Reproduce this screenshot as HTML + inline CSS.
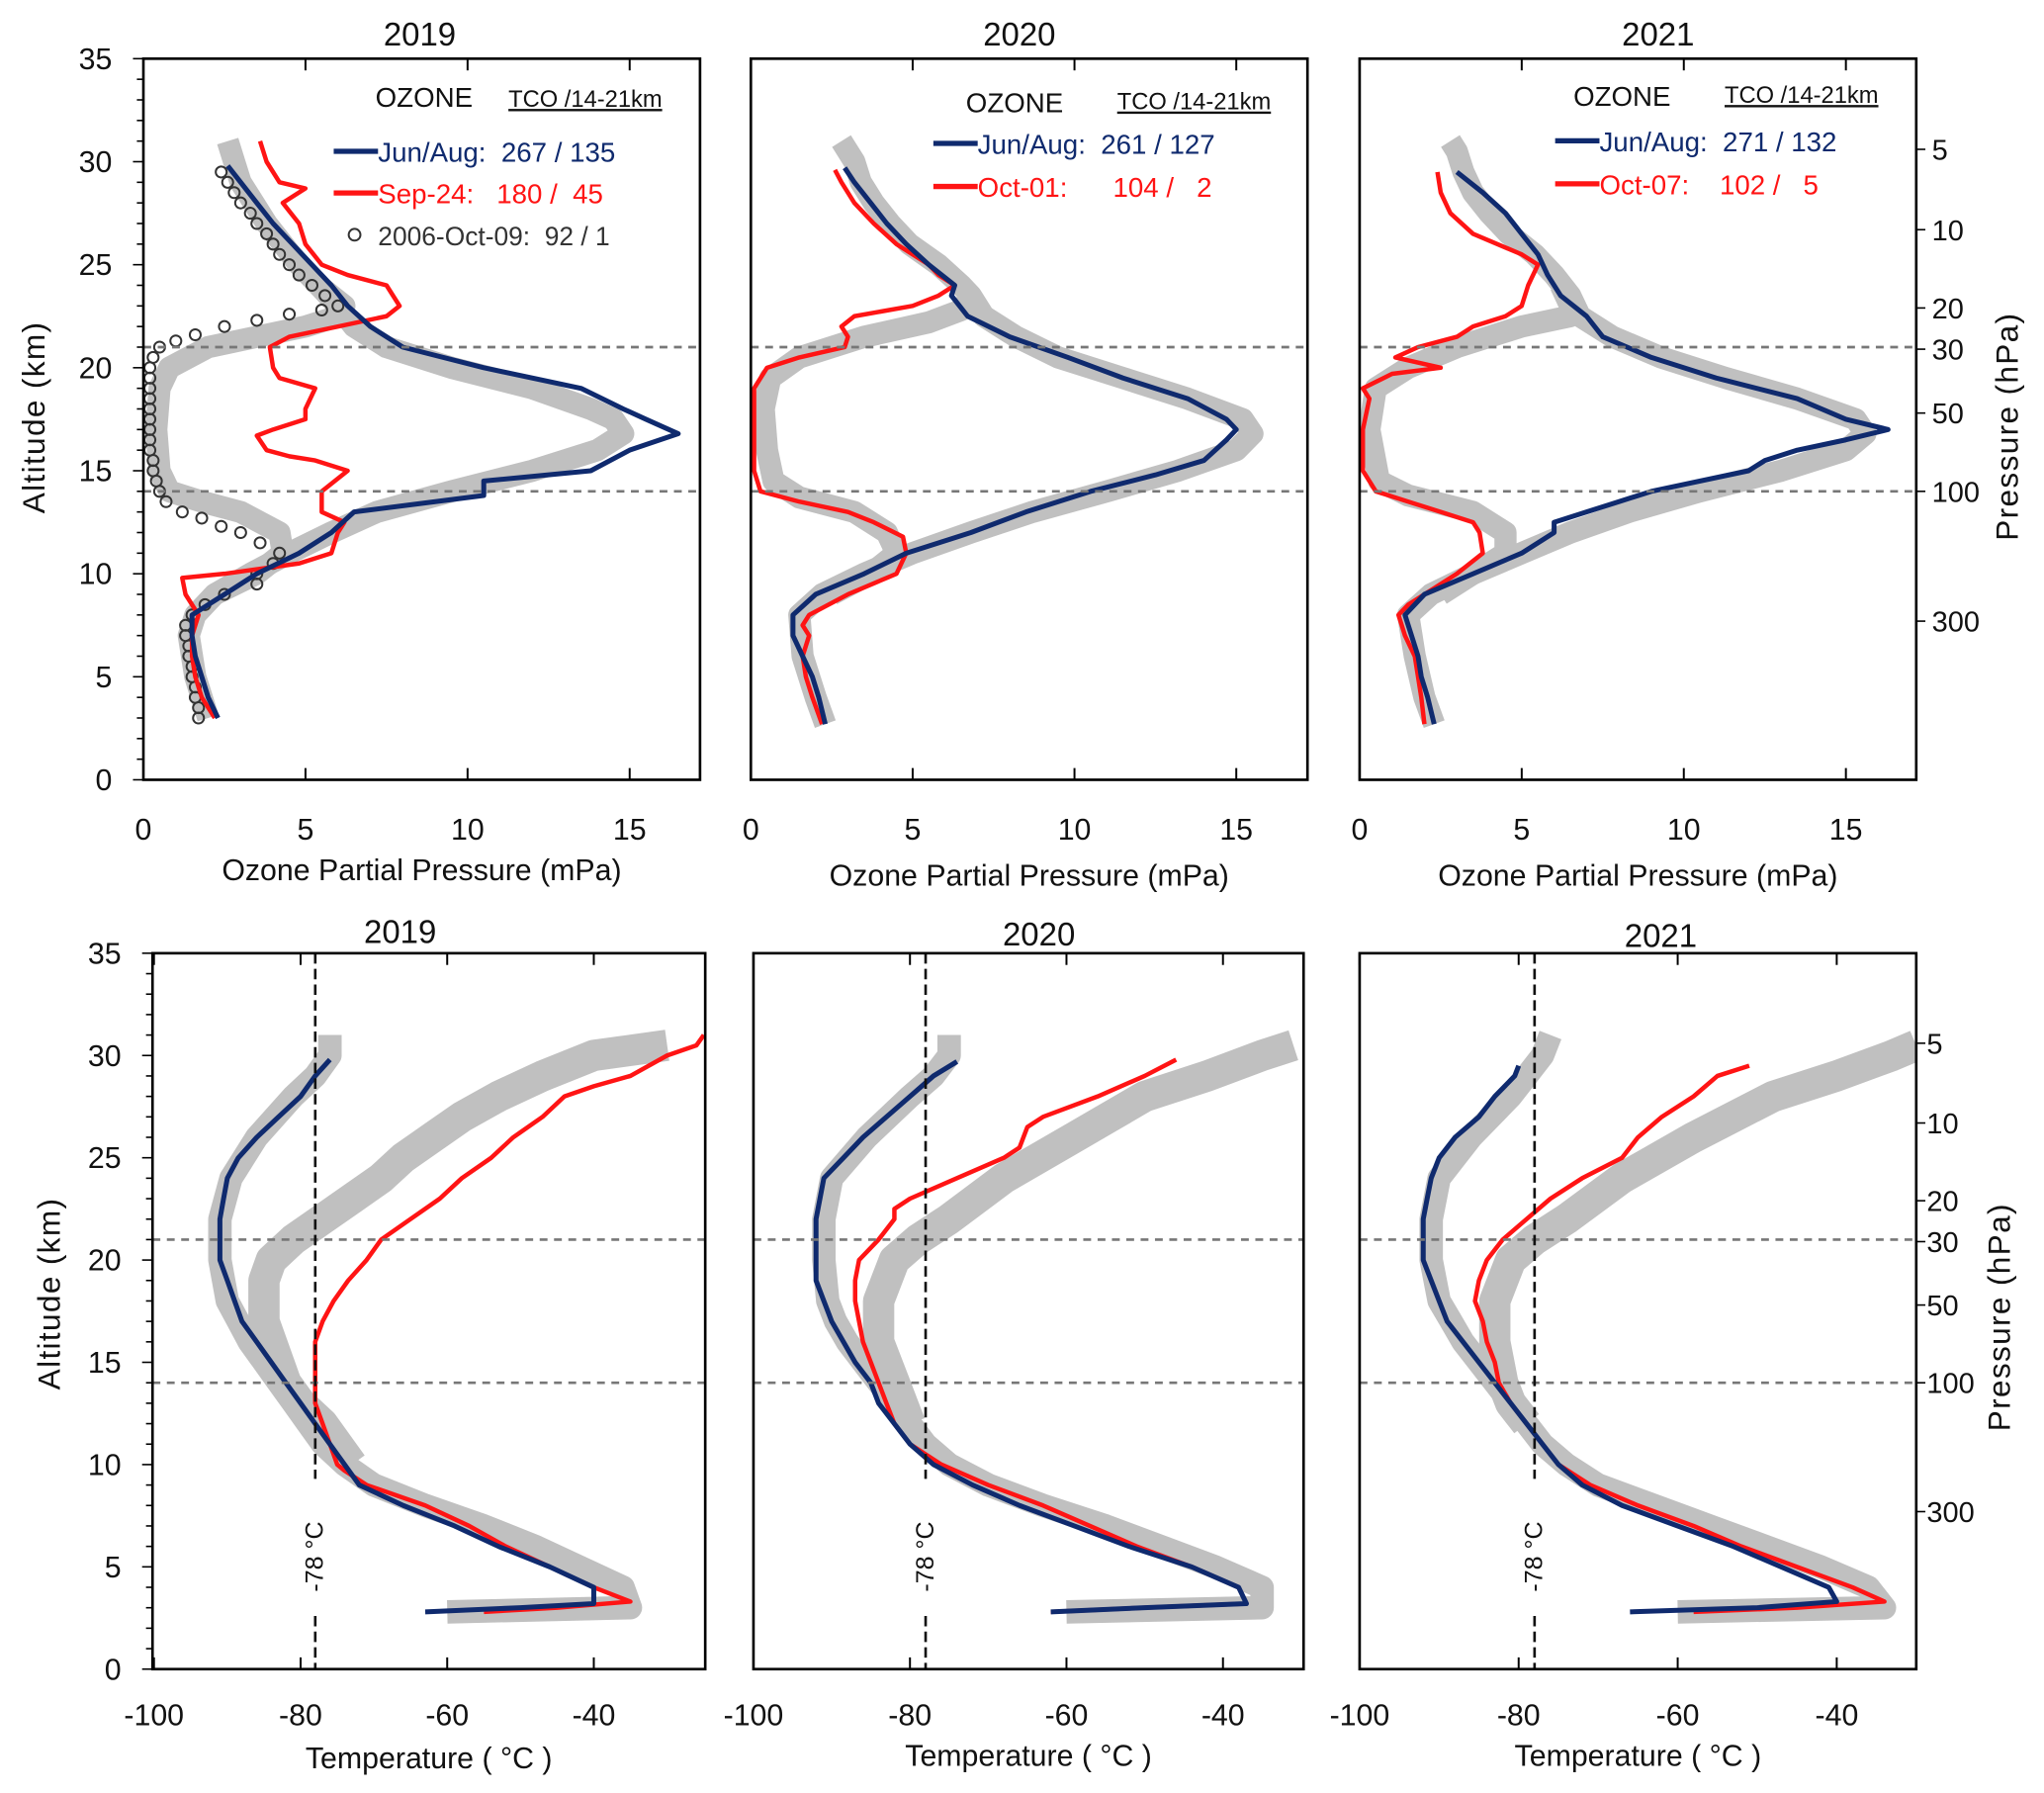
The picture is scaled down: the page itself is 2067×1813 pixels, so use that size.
<!DOCTYPE html>
<html><head><meta charset="utf-8">
<style>
html,body{margin:0;padding:0;background:#fff;}
svg{display:block;font-family:"Liberation Sans",sans-serif;}
.pre{white-space:pre;}
</style></head>
<body>
<svg id="fig" width="2067" height="1813" viewBox="0 0 1568 1375" preserveAspectRatio="none" xmlns="http://www.w3.org/2000/svg"></svg>
<script>
// ---------- DATA: [altitude km, value] ----------
const o19_bandA=[[3,2.0],[5,1.6],[7,1.4],[8,1.6],[9,2.2],[10,3.3],[11,4.5],[12,5.8],[13,7.2],[14,9.5],[15,12],[16,14],[16.8,14.8],[17.5,14.5],[18,13.8],[19,12],[20,9.5],[21,7.5],[22,6.5],[23,6],[24,5.4],[25,4.8],[26,4.3],[27,3.8],[28,3.4],[29,3.0],[30,2.8],[31,2.6]];
const o19_bandB=[[9,2.2],[10,3.5],[11,4.3],[12,4.2],[13,3],[13.5,1.8],[14,0.8],[15,0.5],[17,0.4],[19,0.5],[20,0.8],[21,2],[21.5,3.5],[22,5],[22.5,6],[23,6.2],[24,5.4]];
const o19_jun=[[3,2.3],[4,2.0],[5,1.8],[6,1.6],[7,1.5],[8,1.5],[9,2.5],[10,3.5],[11,4.8],[12,5.8],[13,6.5],[13.8,10.5],[14.5,10.5],[15,13.8],[16,15],[16.8,16.5],[17.5,15.5],[18,14.8],[19,13.5],[20,10.5],[21,8],[22,7],[23,6.3],[24,5.8],[25,5.2],[26,4.6],[27,4.0],[28,3.5],[29,3.0],[29.8,2.6]];
const o19_sep=[[3,2.2],[4,1.8],[5,1.6],[6,1.5],[7,1.5],[8,1.7],[9,1.3],[9.8,1.2],[10,2.5],[10.5,4.8],[11,5.8],[12,6],[12.5,6.2],[13,5.5],[14,5.5],[15,6.3],[15.5,5.3],[15.7,4.5],[16,3.8],[16.7,3.5],[17,4],[17.5,5],[18,5],[19,5.3],[19.5,4.2],[20,4],[21,3.9],[21.5,4.5],[22,6],[22.5,7.5],[23,7.9],[24,7.5],[24.5,6.3],[25,5.5],[26,5],[27,4.8],[28,4.3],[28.7,5],[29,4.2],[30,3.8],[31,3.6]];
const o19_2006=[[3,1.7],[3.5,1.7],[4,1.6],[4.5,1.6],[5,1.5],[5.5,1.5],[6,1.4],[6.5,1.4],[7,1.3],[7.5,1.3],[8,1.5],[8.5,1.9],[9,2.5],[9.5,3.5],[10,3.5],[10.5,4],[11,4.2],[11.5,3.6],[12,3],[12.3,2.4],[12.7,1.8],[13,1.2],[13.5,0.7],[14,0.5],[14.5,0.4],[15,0.3],[15.5,0.3],[16,0.2],[16.5,0.2],[17,0.2],[17.5,0.2],[18,0.2],[18.5,0.2],[19,0.2],[19.5,0.2],[20,0.2],[20.5,0.3],[21,0.5],[21.3,1],[21.6,1.6],[22,2.5],[22.3,3.5],[22.6,4.5],[22.8,5.5],[23,6],[23.5,5.6],[24,5.2],[24.5,4.8],[25,4.5],[25.5,4.2],[26,4],[26.5,3.8],[27,3.5],[27.5,3.3],[28,3],[28.5,2.8],[29,2.6],[29.5,2.4]];
const o20_bandA=[[2.7,2.3],[4,2.0],[6,1.6],[8,1.5],[9,2.2],[10,3.5],[11,5],[12,6.8],[13,8.7],[14,11],[15,13.2],[16,15],[16.8,15.5],[17.5,15.2],[18.5,13.5],[19.5,11.5],[20.5,9.5],[21.5,8.2],[22.5,7.2],[23.5,6.8],[24,6.5],[25,5.8],[26,4.9],[27,4.3],[28,3.8],[29,3.4],[30,3.2],[31,2.8]];
const o20_bandB=[[9,2.5],[10,3.7],[11,4.5],[12,4.2],[13,3.2],[13.7,1.5],[14.5,0.7],[16,0.5],[18,0.4],[19.5,0.6],[20.5,1.5],[21.5,3.5],[22.2,5.5],[22.8,6.5],[23.5,6.8]];
const o20_jun=[[2.7,2.3],[4,2.1],[5,1.9],[6,1.6],[7,1.3],[8,1.3],[9,2.0],[10,3.5],[11,4.8],[12,6.8],[13,8.5],[14,10.5],[14.8,12.5],[15.5,14],[16.5,14.7],[17,15],[17.5,14.7],[18.5,13.5],[19.5,11.5],[20.5,9.8],[21.5,8],[22.5,6.7],[23.5,6.2],[24,6.3],[25,5.5],[26,4.8],[27,4.2],[28,3.7],[29,3.2],[29.7,2.9]];
const o20_oct=[[2.7,2.2],[4,1.9],[5,1.7],[6,1.6],[7,1.8],[7.5,1.6],[8,1.8],[9,3],[10,4.5],[11,4.8],[11.8,4.7],[12.5,3.8],[13,3],[13.5,1.5],[14,0.3],[15,0.1],[17,0.1],[19,0.1],[20,0.5],[20.5,1.5],[21,2.9],[21.5,3],[22,2.8],[22.5,3.2],[23,5],[23.5,5.8],[24,6.3],[24.5,5.8],[25,5.5],[26,4.5],[27,3.8],[28,3.2],[29,2.8],[29.6,2.6]];
const o21_bandA=[[2.7,2.3],[4,2.0],[6,1.7],[8,1.5],[9,2.2],[10,3.5],[11,5],[12,6.5],[13,8.3],[14,10.5],[15,13],[16,15],[16.8,15.6],[17.5,15.3],[18.5,13.5],[19.5,11.3],[20.5,9.3],[21.5,7.8],[22.5,6.8],[23.5,6.5],[24.5,6],[25.5,5.4],[26.5,4.6],[27.5,4.0],[28.5,3.5],[29.5,3.2],[30.5,3.0],[31,2.8]];
const o21_bandB=[[9,2.5],[10,3.5],[11,4.5],[12,4.5],[13,3.5],[13.8,1.5],[14.5,0.6],[17,0.3],[19,0.5],[20,1.5],[21,3],[22,5],[22.5,6.5],[23,6.5],[24,6.2]];
const o21_jun=[[2.7,2.3],[4,2.1],[5,1.9],[6,1.8],[7,1.6],[8,1.4],[9,2],[10,3.5],[11,5],[12,6],[12.5,6],[13,7],[14,9],[15,12],[15.5,12.5],[16,13.5],[16.5,15],[17,16.3],[17.5,15],[18.5,13.5],[19.5,11],[20.5,9],[21.5,7.5],[22.5,7],[23.5,6.2],[24.5,5.8],[25.5,5.5],[26.5,5],[27.5,4.5],[28.5,3.8],[29.5,3.0]];
const o21_oct=[[2.7,2],[4,1.9],[5,1.8],[6,1.7],[7,1.4],[8,1.2],[8.5,1.5],[9,2],[10,3],[11,3.8],[12,3.7],[12.5,3.5],[13,2.5],[13.5,1.5],[14,0.5],[15,0.1],[17,0.1],[18.5,0.3],[19,0.1],[19.7,1],[20,2.5],[20.5,1.1],[21,1.8],[21.5,3],[22,3.5],[22.5,4.5],[23,5],[24,5.2],[25,5.5],[25.5,5],[26.5,3.5],[27.5,2.8],[28.5,2.5],[29.5,2.4]];

const t19_bandA=[[2.8,-60],[3,-35],[4,-36],[5,-42],[6,-48],[7,-55],[8,-63],[9,-70],[10,-74],[11,-77],[12,-79],[13,-81],[14,-83],[15,-85],[16,-87],[17,-88.5],[18,-90],[20,-91],[22,-91],[24,-89.5],[26,-86],[28,-81],[29,-78],[30,-76],[31,-76]];
const t19_bandB=[[10,-73],[12,-77],[13,-80],[14,-82],[15,-83],[16,-84],[17,-85],[18,-85],[19,-85],[20,-84],[21,-81],[22,-77],[23,-73],[24,-69],[25,-66],[26,-62],[27,-58],[28,-53],[29,-47],[30,-40],[30.5,-30]];
const t19_jun=[[2.8,-63],[3,-50],[3.2,-40],[4,-40],[5,-46],[6,-53],[7,-59],[8,-66],[9,-72],[10,-74],[11,-76],[12,-78],[13,-80],[14,-82],[15,-84],[16,-86],[17,-88],[18,-89],[19,-90],[20,-91],[21,-91],[22,-91],[23,-90.5],[24,-90],[25,-88.5],[26,-86],[27,-83],[28,-80],[29,-78],[29.8,-76]];
const t19_sep=[[2.8,-55],[3,-45],[3.3,-35],[4,-40],[5,-46],[6,-52],[7,-57],[8,-63],[9,-71],[9.7,-74],[10,-75],[11,-76],[12,-77],[13,-78],[14,-78],[15,-78],[16,-78],[17,-77],[18,-75.5],[19,-73.5],[20,-71],[21,-69],[22,-65],[23,-61],[24,-58],[25,-54],[26,-51],[27,-47],[28,-44],[28.5,-40],[29,-35],[30,-30],[30.5,-26],[31,-25]];
const t20_bandA=[[2.8,-60],[3,-35],[4,-35],[5,-41],[6,-48],[7,-55],[8,-63],[9,-70],[10,-75],[11,-78],[12,-80],[13,-82],[14,-84],[15,-86],[16,-88],[17,-89.5],[18,-90.5],[20,-91],[22,-91],[24,-90],[26,-85.5],[28,-80],[29,-77],[30,-75],[31,-75]];
const t20_bandB=[[12,-80],[13,-81],[14,-82],[16,-84],[18,-84],[20,-82],[21,-79],[22,-75],[24,-68],[26,-59],[28,-50],[29,-42],[30,-35],[30.5,-31]];
const t20_jun=[[2.8,-62],[3,-50],[3.2,-37],[4,-38],[5,-44],[6,-52],[7,-59],[8,-66],[9,-72],[10,-77],[11,-80],[12,-82],[13,-84],[14,-85],[15,-87],[16,-88.5],[17,-90],[18,-91],[19,-92],[20,-92],[21,-92],[22,-92],[23,-91.5],[24,-91],[25,-88.5],[26,-86],[27,-83],[28,-80],[29,-77],[29.7,-74]];
const t20_oct=[[2.8,-62],[3,-50],[3.2,-37],[4,-38],[5,-44],[6,-51],[7,-57],[8,-63],[9,-70],[10,-76],[11,-80],[12,-82],[13,-83],[14,-84],[15,-85],[16,-86],[17,-86.5],[18,-87],[19,-87],[20,-86.5],[21,-84],[22,-82],[22.5,-82],[23,-80],[24,-74],[25,-68],[25.5,-66],[26.5,-65],[27,-63],[28,-56],[29,-50],[29.8,-46]];
const t21_bandA=[[2.8,-60],[3,-34],[4,-36],[5,-42],[6,-49],[7,-56],[8,-63],[9,-70],[10,-74],[11,-77],[12,-79],[13,-81],[14,-83],[15,-85],[16,-87],[17,-88.5],[18,-90],[20,-91],[22,-91],[24,-90],[26,-86],[28,-81],[29,-79],[30,-77],[31,-76]];
const t21_bandB=[[12,-79],[13,-81],[14,-82],[16,-83],[18,-83],[20,-81],[21,-78],[22,-74],[24,-67],[26,-58],[28,-48],[29,-40],[30,-33],[30.5,-30]];
const t21_jun=[[2.8,-66],[3,-50],[3.3,-40],[4,-41],[5,-47],[6,-53],[7,-60],[8,-67],[9,-72],[10,-75],[11,-77],[12,-79],[13,-81],[14,-83],[15,-85],[16,-87],[17,-89],[18,-90],[19,-91],[20,-92],[21,-92],[22,-92],[23,-91.5],[24,-91],[25,-90],[26,-88],[27,-85],[28,-83],[29,-80.5],[29.5,-80]];
const t21_oct=[[2.8,-58],[3,-45],[3.3,-34],[4,-38],[5,-45],[6,-52],[7,-58],[8,-65],[9,-71],[10,-75],[11,-77],[12,-79],[13,-81],[14,-82.5],[15,-83],[16,-84],[17,-84.5],[18,-85.5],[19,-85],[20,-84],[21,-82],[22,-79],[23,-76],[24,-72],[25,-67],[26,-65],[27,-62],[28,-58],[29,-55],[29.5,-51]];

const altTicks=[0,5,10,15,20,25,30,35];
const ozoneTicks=[0,5,10,15];
const tempTicks=[-100,-80,-60,-40];
const pressLabels=["5","10","20","30","50","100","300"];
const pressAlts=[30.6,26.7,22.9,20.9,17.8,14,7.7];
const years=["2019","2020","2021"];

// ---------- DRAWING ----------
const NS="http://www.w3.org/2000/svg";
const svg=document.getElementById('fig');
function mk(tag,attrs,parent){const e=document.createElementNS(NS,tag);for(const k in attrs)e.setAttribute(k,attrs[k]);(parent||svg).appendChild(e);return e;}
function txt(s,x,y,size,attrs,parent){const t=mk('text',Object.assign({x:x,y:y,'font-size':size},attrs||{}),parent);t.textContent=s;return t;}

const panels=[
 {x0:110,x1:537,y0:45,y1:598,vmin:0,vmax:17.17,ticks:ozoneTicks,type:'o',data:[o19_bandA,o19_bandB,o19_jun,o19_sep],circ:o19_2006},
 {x0:576,x1:1003,y0:45,y1:598,vmin:0,vmax:17.2,ticks:ozoneTicks,type:'o',data:[o20_bandA,o20_bandB,o20_jun,o20_oct]},
 {x0:1043,x1:1470,y0:45,y1:598,vmin:0,vmax:17.17,ticks:ozoneTicks,type:'o',data:[o21_bandA,o21_bandB,o21_jun,o21_oct]},
 {x0:117,x1:541,y0:731,y1:1280,vmin:-100.2,vmax:-24.8,ticks:tempTicks,type:'t',data:[t19_bandA,t19_bandB,t19_jun,t19_sep]},
 {x0:578,x1:1000,y0:731,y1:1280,vmin:-100,vmax:-29.7,ticks:tempTicks,type:'t',data:[t20_bandA,t20_bandB,t20_jun,t20_oct]},
 {x0:1043,x1:1470,y0:731,y1:1280,vmin:-100,vmax:-30,ticks:tempTicks,type:'t',data:[t21_bandA,t21_bandB,t21_jun,t21_oct]}
];
const titlePos=[[322,35],[782,35],[1272,35],[307,723],[797,725],[1274,726]];

panels.forEach((p,i)=>{
  const g=mk('g',{});
  
  
  const sx=v=>p.x0+(v-p.vmin)/(p.vmax-p.vmin)*(p.x1-p.x0);
  const sy=a=>p.y1-a/35*(p.y1-p.y0);
  const path=d=>d.map((q,j)=>(j?'L':'M')+sx(q[1]).toFixed(1)+','+sy(q[0]).toFixed(1)).join('');
  const clip=mk('clipPath',{id:'c'+i},g);mk('rect',{x:p.x0,y:p.y0,width:p.x1-p.x0,height:p.y1-p.y0},clip);
  const pl=mk('g',{'clip-path':'url(#c'+i+')'},g);
  [0,1].forEach(k=>{const b=mk('path',{d:path(p.data[k]),fill:'none',stroke:'#c0c0c0','stroke-width':p.type==='t'?(k?24:18):17,'stroke-linejoin':'round','stroke-linecap':'butt'},pl);
    });
  [21,14].forEach(a=>{const l=mk('line',{x1:p.x0,x2:p.x1,y1:sy(a),y2:sy(a),stroke:'#777','stroke-width':2,'stroke-dasharray':'6,5'},g);
    });
  if(p.type==='t'){const vx=sx(-78);
    const v1=mk('line',{x1:vx,x2:vx,y1:p.y0,y2:sy(9.3),stroke:'#111','stroke-width':2,'stroke-dasharray':'8,4'},g);
    
    mk('line',{x1:vx,x2:vx,y1:sy(2.6),y2:p.y1,stroke:'#111','stroke-width':2,'stroke-dasharray':'8,4'},g);
    const lt=txt('-78 °C',0,0,19,{transform:`translate(${vx+6},${sy(5.5)}) rotate(-90)`,'text-anchor':'middle',fill:'#111'},g);
    }
  if(p.circ){const cg=mk('g',{},pl);
    p.circ.forEach(q=>mk('circle',{cx:sx(q[1]),cy:sy(q[0]),r:4.2,fill:'none',stroke:'#333','stroke-width':1.5},cg));}
  const rl=mk('path',{d:path(p.data[3]),fill:'none',stroke:'#ff1414','stroke-width':3.4,'stroke-linejoin':'round'},pl);
  
  const bl=mk('path',{d:path(p.data[2]),fill:'none',stroke:'#0f2a6e','stroke-width':3.8,'stroke-linejoin':'round'},pl);
  
  const fr=mk('rect',{x:p.x0,y:p.y0,width:p.x1-p.x0,height:p.y1-p.y0,fill:'none',stroke:'#000','stroke-width':2},g);
  
  p.ticks.forEach(t=>{const x=sx(t);
    mk('line',{x1:x,x2:x,y1:p.y1,y2:p.y1-9,stroke:'#000','stroke-width':1.5},g);
    mk('line',{x1:x,x2:x,y1:p.y0,y2:p.y0+9,stroke:'#000','stroke-width':1.5},g);
    const tl=txt(String(t),x,p.type==='o'?644:1323,23,{'text-anchor':'middle',fill:'#111'},g);
    });
  const xt=txt(p.type==='o'?'Ozone Partial Pressure (mPa)':'Temperature ( °C )',(p.x0+p.x1)/2,p.type==='o'?(i===0?675:679):(i===3?1356:1354),23,{'text-anchor':'middle',fill:'#111'},g);
  
  const tt=txt(years[i%3],titlePos[i][0],titlePos[i][1],25,{'text-anchor':'middle',fill:'#111'},g);
  
  if(i===0||i===3){
    for(let a=0;a<=35;a++){const y=sy(a);mk('line',{x1:p.x0,x2:p.x0-(a%5?5:8),y1:y,y2:y,stroke:'#000','stroke-width':1.2},g);}
    altTicks.forEach(a=>{const l=txt(String(a),p.x0-24,sy(a)+8,23,{'text-anchor':'end',fill:'#111'},g);
      });
    const yx=i===0?34:46,yc=i===0?320:992;
    const yt=txt('Altitude (km)',0,0,24,{transform:`translate(${yx},${yc}) rotate(-90)`,'text-anchor':'middle',fill:'#111','letter-spacing':'1'},g);
    
  }
  if(i===2||i===5){
    pressAlts.forEach((a,k)=>{const y=sy(a);mk('line',{x1:p.x1,x2:p.x1+7,y1:y,y2:y,stroke:'#000','stroke-width':1.2},g);
      const l=txt(pressLabels[k],p.x1+(i===2?12:8),y+8,22,{fill:'#111'},g);
      });
    const px=i===2?1548:1542,pc=i===2?327:1010;
    const pt=txt('Pressure (hPa)',0,0,24,{transform:`translate(${px},${pc}) rotate(-90)`,'text-anchor':'middle',fill:'#111','letter-spacing':'1'},g);
    
  }
});

// ---------- LEGENDS ----------
const legends=[
 {ox:288,oy:82,tx:390,ty:82,ly:[116,148],lx:256,rows:[['Jun/Aug:  267 / 135','#0f2a6e'],['Sep-24:   180 /  45','#ff1414']],extra:true},
 {ox:741,oy:86,tx:857,ty:84,ly:[110,143],lx:716,rows:[['Jun/Aug:  261 / 127','#0f2a6e'],['Oct-01:      104 /   2','#ff1414']]},
 {ox:1207,oy:81,tx:1323,ty:79,ly:[108,141],lx:1193,rows:[['Jun/Aug:  271 / 132','#0f2a6e'],['Oct-07:    102 /   5','#ff1414']]}
];
legends.forEach((L,i)=>{
  const g=mk('g',{});
  txt('OZONE',L.ox,L.oy,21,{fill:'#111'},g);
  txt('TCO /14-21km',L.tx,L.ty,18,{fill:'#111','text-decoration':'underline'},g);
  L.rows.forEach((r,k)=>{const y=L.ly[k];
    mk('line',{x1:L.lx,x2:L.lx+34,y1:y,y2:y,stroke:r[1],'stroke-width':4},g);
    const e=txt(r[0],L.lx+34,y+8,21,{fill:r[1],'class':'pre'},g);
    });
  if(L.extra){mk('circle',{cx:272,cy:180,r:4.5,fill:'none',stroke:'#333','stroke-width':1.5},g);
    const e=txt('2006-Oct-09:  92 / 1',290,188,20,{fill:'#333','class':'pre'},g);
    }
});
</script>
</body></html>
